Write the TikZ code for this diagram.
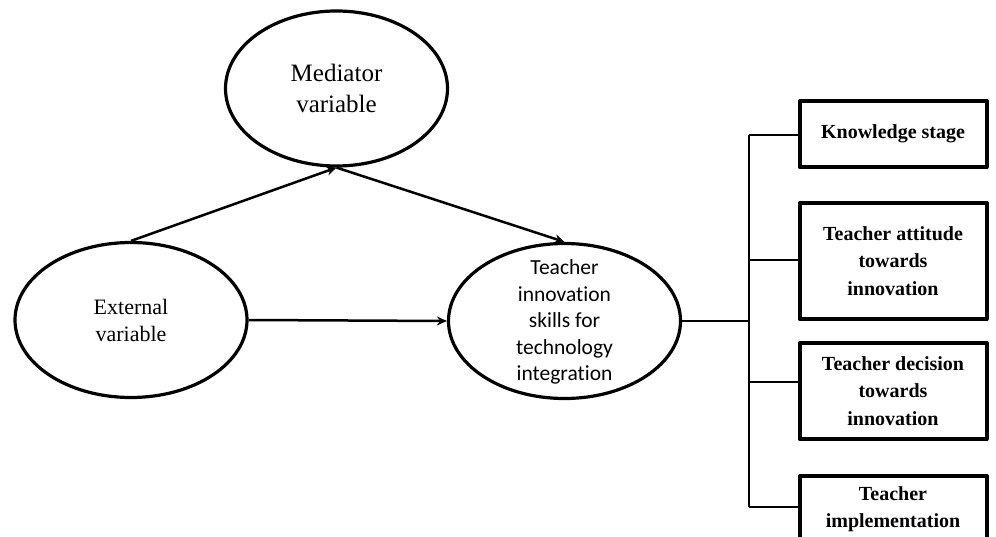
\documentclass[tikz,border=0pt]{standalone}
\usepackage{fontspec}
\setmainfont{Liberation Serif}
\newfontfamily\calibri[Ligatures=NoCommon]{Carlito}
\usetikzlibrary{shapes.geometric,arrows.meta}
\tikzset{
	var/.style={ellipse,draw,line width=3.2pt,inner sep=0pt,align=center},
	stage/.style={rectangle,draw,line width=4pt,minimum width=187pt,inner sep=0pt,align=center,font=\fontsize{20}{27.5}\selectfont\bfseries},
	flow/.style={line width=2.5pt,->},
	link/.style={line width=1.6pt}
}
\begin{document}
\begin{tikzpicture}[x=1pt,y=-1pt,line join=round,>={Stealth[length=10pt,width=9pt]}]
	\useasboundingbox (0,0) rectangle (996,537);
	\clip (0,0) rectangle (996,537);
	% the three variables
	\node[var,minimum width=222pt,minimum height=155pt,font=\fontsize{25}{31}\selectfont] (med) at (336.5,88.5) {Mediator\\variable};
	\node[var,minimum width=232pt,minimum height=155pt,font=\fontsize{22}{27}\selectfont] (ext) at (131,320) {External\\variable};
	\node[var,minimum width=232pt,minimum height=155pt] (teach) at (564.5,321) {};
	\node[font=\calibri\fontsize{21.5}{26.5}\selectfont,align=center] (teachtxt) at (564.5,322) {Teacher\\innovation\\skills for\\technology\\integration};
	\draw[flow] (ext.north) -- (med.south);
	\draw[flow] (med.south) -- (teach.north);
	\draw[flow] (ext.east) -- (teach.west);
	% the four stages
	\node[stage,minimum height=66pt] (know) at (893,134) {\raisebox{-2pt}{Knowledge stage}};
	\node[stage,minimum height=116pt] (att) at (893,261) {Teacher attitude\\towards\\innovation};
	\node[stage,minimum height=96pt] (dec) at (893,391) {Teacher decision\\towards\\innovation};
	\node[stage,minimum height=66pt] (impl) at (893,509) {Teacher\\implementation};
	\path
	(749,321) coordinate (bus)
	(749,135) coordinate (t1)
	(749,260) coordinate (t2)
	(749,382) coordinate (t3)
	(749,507) coordinate (t4)
	;
	\draw[link] (teach.east) -- (bus);
	\draw[link] (t1) -- (t4);
	\foreach \t/\b in {t1/know,t2/att,t3/dec,t4/impl}
	\draw[link] (\t) -- (\t -| \b.west);
\end{tikzpicture}
\end{document}
